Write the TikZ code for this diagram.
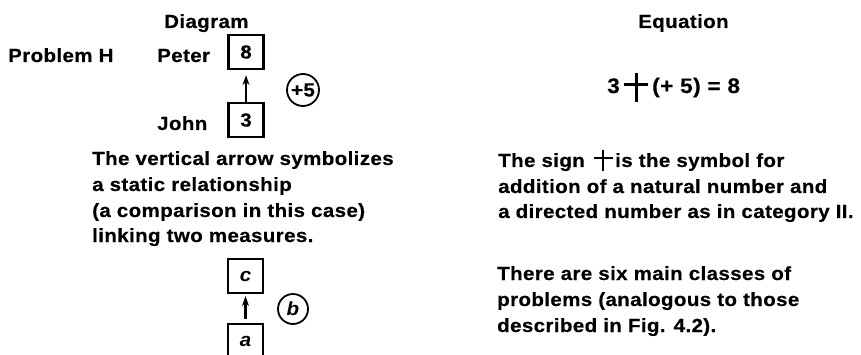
\documentclass[tikz,border=0pt]{standalone}
\usepackage{fontspec}
\setmainfont{Liberation Sans}[FakeStretch=1.08,LetterSpace=2.0,BoldFeatures={FakeBold=0.4}]
\usetikzlibrary{arrows.meta}
\tikzset{
  txtfont/.style={font=\bfseries\fontsize{19}{23}\selectfont},
  lbl/.style={txtfont, inner sep=0pt, anchor=base west},
  eqf/.style={font=\bfseries\fontsize{21}{25}\selectfont, inner sep=0pt, anchor=base west},
  valbox/.style={draw, line width=2.2pt, minimum width=35pt, minimum height=34pt, inner sep=0pt, txtfont},
  rel/.style={draw, circle, line width=1.8pt, minimum size=32pt, inner sep=0pt, txtfont},
  arr/.style={line width=2.3pt, -{Stealth[length=10pt,width=7pt]}},
  bigplus/.style={line width=3pt}
}
\begin{document}
\begin{tikzpicture}[x=1pt,y=-1pt]
\useasboundingbox (0,0) rectangle (861,355);
% left column
\node[lbl] (diag) at (164,28) {Diagram};
\node[lbl] (probH) at (8,62) {Problem H};
\node[lbl] (peter) at (157,62) {Peter};
\node[lbl] (john) at (157,130) {John};
\node[valbox] (b8) at (246,52) {8};
\node[valbox] (b3) at (246,120) {3};
\node[rel] (r5) at (303,90) {+5};
\draw[arr, shorten >=5pt] (b3) -- (b8);
\node[lbl] (l1) at (92,165) {The vertical arrow symbolizes};
\node[lbl] (l2) at (92,191) {a static relationship};
\node[lbl] (l3) at (92,217) {(a comparison in this case)};
\node[lbl] (l4) at (92,242) {linking two measures.};
\node[valbox, font=\bfseries\itshape\fontsize{19}{23}\selectfont] (bc) at (245.5,276) {c};
\node[valbox, font=\bfseries\itshape\fontsize{19}{23}\selectfont] (ba) at (245.5,341) {a};
\node[rel, font=\bfseries\itshape\fontsize{19}{23}\selectfont, minimum size=30pt] (rb) at (293,309) {b};
\draw[arr, shorten >=2pt, shorten <=4pt] (ba) -- (bc);
% right column
\node[lbl] (eqh) at (638,28) {Equation};
\node[eqf] (e3) at (607,93) {3};
\draw[bigplus] (624,85) -- (648,85) (636,73) -- (636,102);
\node[eqf] (erest) at (652,93) {(+ 5) = 8};
\node[lbl] (r1a) at (498,167) {The sign};
\draw[line width=2.6pt] (594,158) -- (613,158) (603,150) -- (603,171);
\node[lbl] (r1b) at (615,167) {is the symbol for};
\node[lbl] (r2) at (498,193) {addition of a natural number and};
\node[lbl] (r3) at (498,218) {a directed number as in category II.};
\node[lbl] (s1) at (497,280) {There are six main classes of};
\node[lbl] (s2) at (497,306) {problems (analogous to those};
\node[lbl] (s3) at (497,332) {described in Fig. 4.2).};
\end{tikzpicture}
\end{document}
